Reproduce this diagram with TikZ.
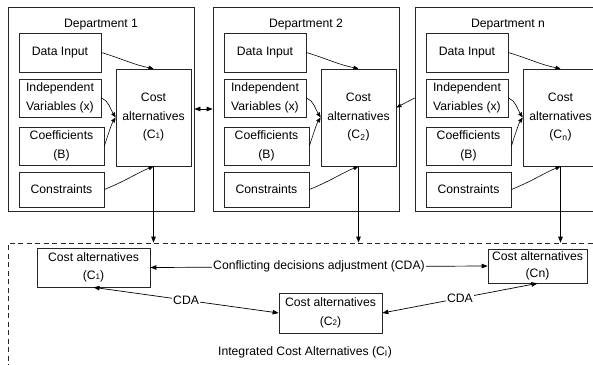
\documentclass[tikz,border=0pt]{standalone}
\usepackage{fontspec}
\setmainfont{Liberation Sans}
\usetikzlibrary{arrows.meta}

\begin{document}
\begin{tikzpicture}[x=1pt, y=-1pt, font=\fontsize{12.2}{18.5}\selectfont,
  box/.style={draw=black!85, line width=0.7pt, align=center, inner sep=1pt},
  dept/.style={draw=black!85, line width=0.7pt, minimum width=186pt, minimum height=204pt},
  arr/.style={-{Triangle[length=6pt,width=4.5pt]}, line width=0.7pt},
  arrs/.style={-{Triangle[length=5pt,width=4pt]}, line width=0.6pt},
  both/.style={{Triangle[length=6pt,width=4.5pt]}-{Triangle[length=6pt,width=4.5pt]}, line width=0.7pt},
  lbl/.style={fill=white, inner sep=1pt}]
\useasboundingbox (0,0) rectangle (593,364);
\clip (0,0) rectangle (593,364);
% integrated part (dashed frame)
\node[draw=black!85, line width=0.7pt, dash pattern=on 5pt off 3.5pt,
  minimum width=602pt, minimum height=137pt] (ica) at (309,311.5) {};
% departments
\foreach \bx/\id/\sub in {8/1/{{\footnotesize 1}}, 213/2/{\textsubscript{2}}, 415/n/{\textsubscript{n}}} {
  \node[dept] (dep\id) at (\bx+93,109) {};
  \node (title\id) at (\bx+93,25) {Department \id};
  \node[box, minimum width=82pt, minimum height=39pt] (data\id) at (\bx+52,52.5) {Data Input};
  \node[box, minimum width=82pt, minimum height=38pt] (indep\id) at (\bx+52,98) {Independent\\Variables (x)};
  \node[box, minimum width=85pt, minimum height=38pt] (coef\id) at (\bx+53.5,146) {Coefficients\\(B)};
  \node[box, minimum width=85pt, minimum height=35pt] (constr\id) at (\bx+53.5,189.5) {Constraints};
  \node[box, minimum width=75pt, minimum height=97pt] (cost\id) at (\bx+145.5,117.5) {Cost\\alternatives\\(C\sub)};
  \draw[arrs] (data\id.east) .. controls +(20,6) and +(-20,-4) .. (cost\id.north);
  \draw[arrs] (indep\id.east) .. controls +(7,2) and +(-5,-8) .. (cost\id.west);
  \draw[arrs] (coef\id.east) .. controls +(4,-12) and +(-4,6) .. (cost\id.west);
  \draw[arrs] (constr\id.east) .. controls +(20,-8) and +(-15,6) .. (cost\id.south);
  \draw[arr] (cost\id.south) -- (cost\id.south |- ica.north);
}
\draw[both] (dep1.east) -- (dep2.west);
\draw[arrs] (depn.west) ++(0,-11) -- ([yshift=10pt]cost2.east);
% integrated cost alternatives
\node[box, minimum width=113pt, minimum height=39pt] (ic1) at (93.5,267.5) {Cost alternatives\\(C{\footnotesize 1})};
\node[box, minimum width=103pt, minimum height=40pt] (ic2) at (330.5,313) {Cost alternatives\\(C{\footnotesize 2})};
\node[box, minimum width=99pt, minimum height=34pt, font=\fontsize{12.2}{17}\selectfont] (icn) at (537.5,266) {Cost alternatives\\(Cn)};
\draw[both] (ic1.east) -- node[lbl] {Conflicting decisions adjustment (CDA)} (icn.west);
\draw[both] (ic1.south) -- node[lbl] {CDA} (ic2.west);
\draw[both] (ic2.east) -- node[lbl] {CDA} (icn.south);
\node (ictitle) at (305,352) {Integrated Cost Alternatives (C\textsubscript{I})};
\end{tikzpicture}
\end{document}
